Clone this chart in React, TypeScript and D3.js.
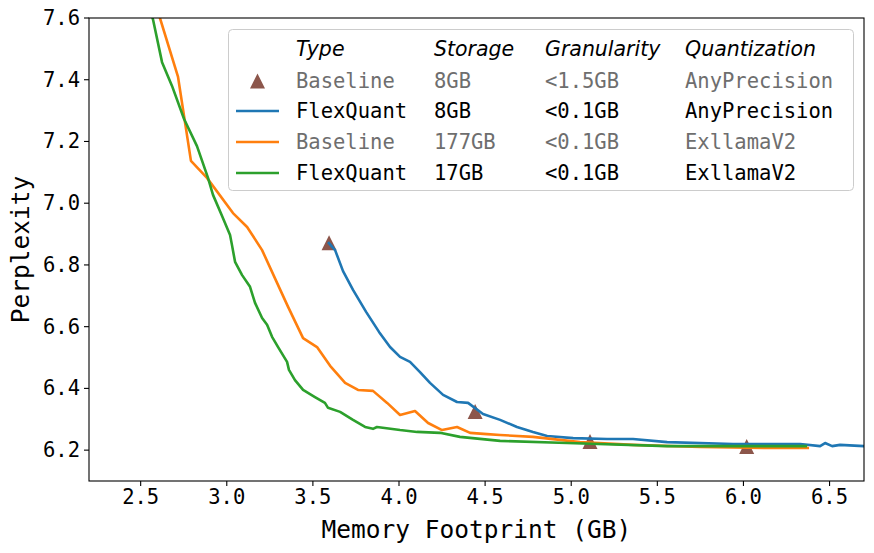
import React from "react";
import * as d3 from "d3";

// ---- Data ----
const xTicks = [2.5, 3.0, 3.5, 4.0, 4.5, 5.0, 5.5, 6.0, 6.5];
const yTicks = [6.2, 6.4, 6.6, 6.8, 7.0, 7.2, 7.4, 7.6];

const baselineAnyPrecision: [number, number][] = [
  [3.594, 6.872], [4.442, 6.325], [5.109, 6.228], [6.019, 6.212],
];

const flexQuantAnyPrecision: [number, number][] = [
  [3.588, 6.874], [3.617, 6.855], [3.629, 6.848], [3.675, 6.78], [3.733, 6.719],
  [3.809, 6.648], [3.884, 6.583], [3.948, 6.534], [4.006, 6.502], [4.064, 6.486],
  [4.122, 6.453], [4.18, 6.418], [4.256, 6.379], [4.337, 6.356], [4.401, 6.353],
  [4.488, 6.317], [4.587, 6.298], [4.685, 6.275], [4.778, 6.259], [4.86, 6.246],
  [5.011, 6.239], [5.208, 6.236], [5.359, 6.236], [5.557, 6.226], [5.94, 6.22],
  [6.329, 6.22], [6.445, 6.213], [6.474, 6.223], [6.515, 6.213], [6.561, 6.217],
  [6.7, 6.213], [6.75, 6.213],
];

const baselineExllama: [number, number][] = [
  [2.589, 7.642], [2.612, 7.6], [2.717, 7.409], [2.792, 7.137], [2.885, 7.082],
  [3.036, 6.968], [3.118, 6.923], [3.205, 6.848], [3.292, 6.742], [3.356, 6.664],
  [3.443, 6.563], [3.524, 6.534], [3.6, 6.473], [3.687, 6.418], [3.762, 6.395],
  [3.849, 6.392], [3.931, 6.353], [4.006, 6.314], [4.093, 6.327], [4.169, 6.288],
  [4.25, 6.265], [4.337, 6.275], [4.413, 6.256], [4.511, 6.252], [4.587, 6.249],
  [4.778, 6.243], [5.051, 6.226], [5.359, 6.217], [5.748, 6.21], [6.137, 6.207],
  [6.381, 6.207],
];

const flexQuantExllama: [number, number][] = [
  [2.554, 7.632], [2.572, 7.594], [2.624, 7.457], [2.682, 7.38], [2.752, 7.273],
  [2.827, 7.185], [2.891, 7.082], [2.92, 7.027], [2.972, 6.959], [3.019, 6.897],
  [3.03, 6.865], [3.048, 6.81], [3.089, 6.767], [3.135, 6.729], [3.164, 6.677],
  [3.205, 6.628], [3.234, 6.606], [3.263, 6.567], [3.298, 6.534], [3.35, 6.486],
  [3.361, 6.46], [3.396, 6.427], [3.443, 6.395], [3.512, 6.372], [3.57, 6.353],
  [3.588, 6.337], [3.658, 6.324], [3.733, 6.298], [3.803, 6.275], [3.849, 6.269],
  [3.872, 6.275], [4.006, 6.265], [4.105, 6.259], [4.238, 6.256], [4.354, 6.243],
  [4.587, 6.23], [4.976, 6.223], [5.557, 6.213], [6.137, 6.213], [6.37, 6.213],
];

const legendHeaders = ["Type", "Storage", "Granularity", "Quantization"];
const legendRows = [
  { kind: "marker", color: "#8c564b", cells: ["Baseline", "8GB", "<1.5GB", "AnyPrecision"], muted: true },
  { kind: "line", color: "#1f77b4", cells: ["FlexQuant", "8GB", "<0.1GB", "AnyPrecision"], muted: false },
  { kind: "line", color: "#ff7f0e", cells: ["Baseline", "177GB", "<0.1GB", "ExllamaV2"], muted: true },
  { kind: "line", color: "#2ca02c", cells: ["FlexQuant", "17GB", "<0.1GB", "ExllamaV2"], muted: false },
];

// ---- Layout ----
const W = 874, H = 553;
const L = 89, R = 864, T = 18, B = 481;
const mono = "'DejaVu Sans Mono', monospace";
const sans = "'DejaVu Sans', sans-serif";

export default function App() {
  const x = d3.scaleLinear().domain([2.2, 6.7]).range([L, R]);
  const y = d3.scaleLinear().domain([6.1, 7.6]).range([B, T]);
  const line = d3.line<[number, number]>().x(d => x(d[0])).y(d => y(d[1]));
  const triPath = (cx: number, cy: number, s: number) =>
    `M${cx},${cy - s / 2}L${cx + s / 2},${cy + s / 2}L${cx - s / 2},${cy + s / 2}Z`;

  const colX = [296, 434, 545, 685];
  const rowY = [49, 81, 111, 142, 173];
  const series = [
    { data: flexQuantAnyPrecision, color: "#1f77b4" },
    { data: baselineExllama, color: "#ff7f0e" },
    { data: flexQuantExllama, color: "#2ca02c" },
  ];

  return (
    <svg width={W} height={H} style={{ position: "absolute", left: 0, top: 0, background: "#fff" }}>
      <defs>
        <clipPath id="plot">
          <rect x={L} y={T} width={R - L} height={B - T} />
        </clipPath>
      </defs>
      <rect x={0} y={0} width={W} height={H} fill="#fff" />
      <g clipPath="url(#plot)">
        {baselineAnyPrecision.map((d, i) => (
          <path key={i} d={triPath(x(d[0]), y(d[1]), 15)} fill="#8c564b" />
        ))}
        {series.map((s, i) => (
          <path key={i} d={line(s.data) || ""} fill="none" stroke={s.color} strokeWidth={2.6} strokeLinejoin="round" />
        ))}
      </g>
      {/* spines */}
      <rect x={L} y={T} width={R - L} height={B - T} fill="none" stroke="#000" strokeWidth={1.1} />
      {/* x ticks */}
      {xTicks.map(t => (
        <g key={t}>
          <line x1={x(t)} x2={x(t)} y1={B} y2={B + 5} stroke="#000" strokeWidth={1.1} />
          <text x={x(t)} y={B + 8} textAnchor="middle" dominantBaseline="hanging" fontFamily={mono} fontSize={20.5}>
            {t.toFixed(1)}
          </text>
        </g>
      ))}
      {yTicks.map(t => (
        <g key={t}>
          <line x1={L - 5} x2={L} y1={y(t)} y2={y(t)} stroke="#000" strokeWidth={1.1} />
          <text x={L - 9} y={y(t)} textAnchor="end" dominantBaseline="central" fontFamily={mono} fontSize={20.5}>
            {t.toFixed(1)}
          </text>
        </g>
      ))}
      <text x={(L + R) / 2} y={538} textAnchor="middle" fontFamily={mono} fontSize={24.5}>
        Memory Footprint (GB)
      </text>
      <text transform={`translate(29,${(T + B) / 2}) rotate(-90)`} textAnchor="middle" fontFamily={mono} fontSize={24.5}>
        Perplexity
      </text>
      {/* legend */}
      <rect x={228.5} y={29.5} width={625} height={161} rx={4} fill="#fff" fillOpacity={0.8} stroke="#cccccc" strokeWidth={1} />
      {legendHeaders.map((h, i) => (
        <text key={h} x={colX[i]} y={rowY[0]} dominantBaseline="central" fontFamily={sans} fontStyle="italic" fontSize={20.5}>
          {h}
        </text>
      ))}
      {legendRows.map((r, ri) => {
        const cy = rowY[ri + 1];
        return (
          <g key={ri}>
            {r.kind === "marker" ? (
              <path d={triPath(257.5, cy, 15)} fill={r.color} />
            ) : (
              <line x1={236} x2={279} y1={cy} y2={cy} stroke={r.color} strokeWidth={2.6} />
            )}
            {r.cells.map((c, ci) => (
              <text key={ci} x={colX[ci]} y={cy} dominantBaseline="central" fontFamily={mono} fontSize={20.5}
                fill={r.muted ? "#6e6e6e" : "#000"}>
                {c}
              </text>
            ))}
          </g>
        );
      })}
    </svg>
  );
}
